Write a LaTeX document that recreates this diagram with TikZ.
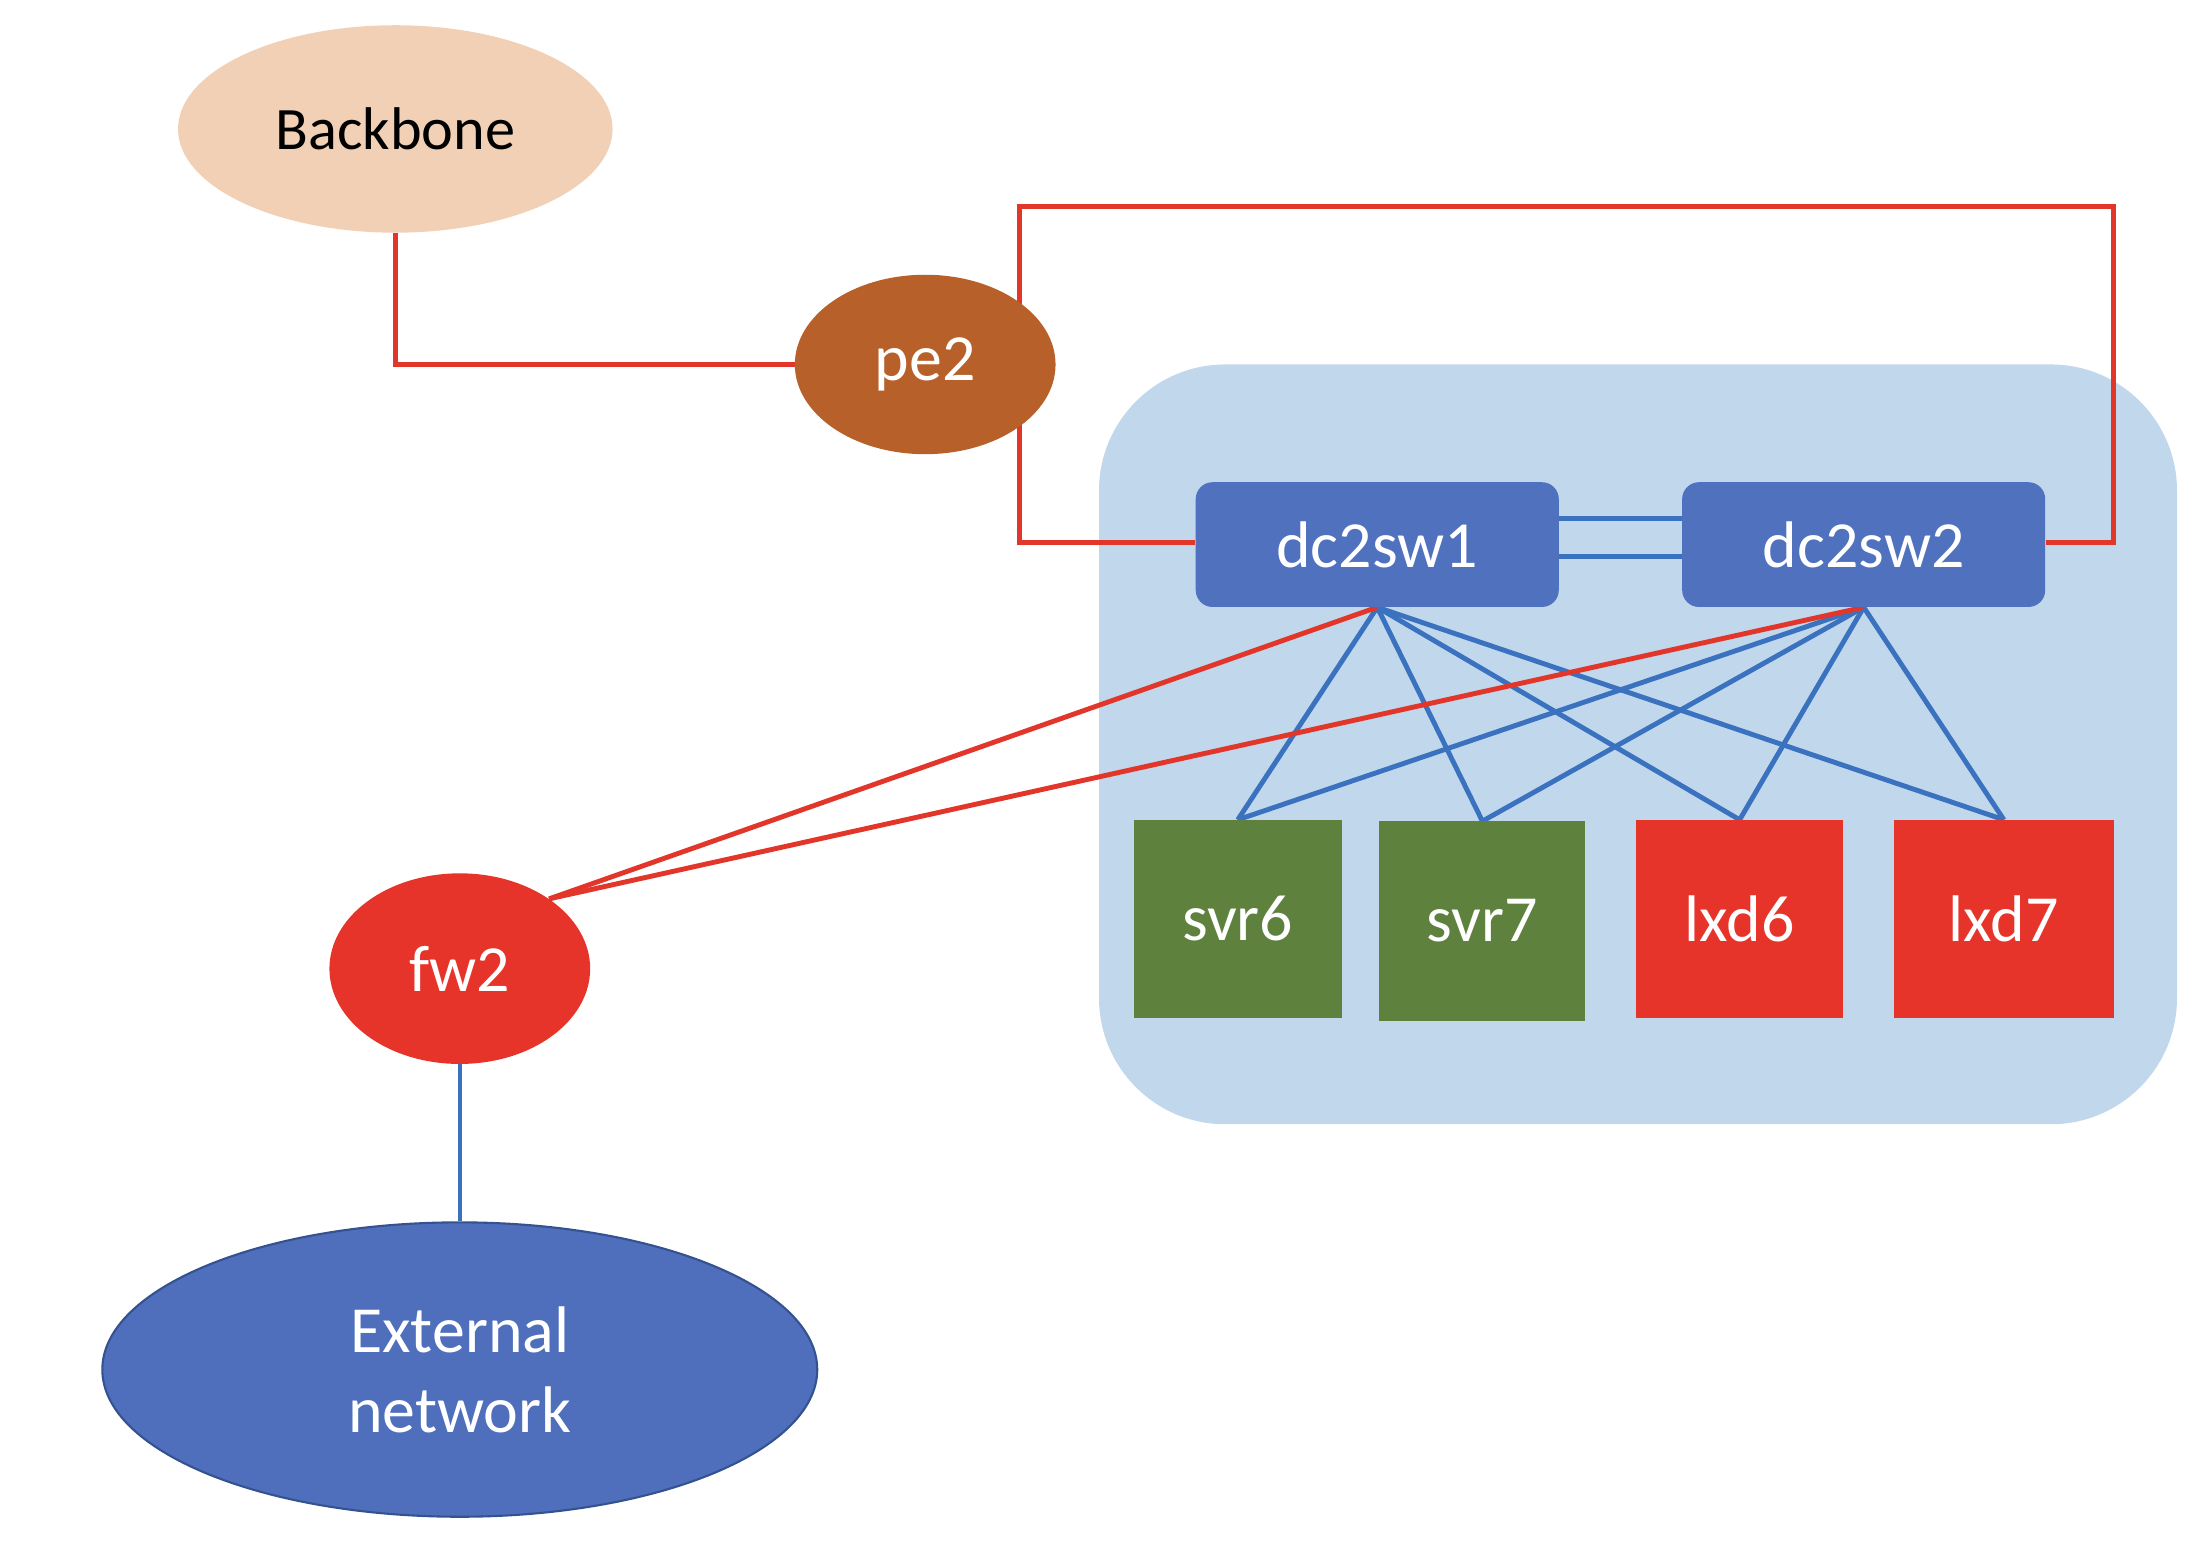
\documentclass[tikz,border=0pt]{standalone}
\usepackage{fontspec}
\setmainfont{Carlito}
\usetikzlibrary{shapes.geometric}
\pgfdeclarelayer{bg}
\pgfdeclarelayer{mid}
\pgfsetlayers{bg,mid,main}
\definecolor{backfill}{HTML}{F1D0B5}
\definecolor{pefill}{HTML}{B8602A}
\definecolor{redfill}{HTML}{E7342A}
\definecolor{greenfill}{HTML}{5E823E}
\definecolor{swfill}{HTML}{4F71BE}
\definecolor{zonefill}{HTML}{C1D7EB}
\definecolor{extfill}{HTML}{4F6FBC}
\definecolor{extborder}{HTML}{34528F}
\definecolor{redline}{HTML}{E2362B}
\definecolor{blueline}{HTML}{3B72C0}
\tikzset{
  lbl/.style={text=white, font=\fontsize{47}{57}\selectfont, inner sep=0pt},
  oval/.style={ellipse, inner sep=0pt},
  swbox/.style={rectangle, rounded corners=12pt, fill=swfill, minimum width=259pt, minimum height=89pt, lbl},
  hostbox/.style={rectangle, minimum height=141pt, lbl},
  redlink/.style={draw=redline, line width=3.5pt},
  bluelink/.style={draw=blueline, line width=3.5pt},
}
\begin{document}
\begin{tikzpicture}[x=1pt, y=-1pt]
\useasboundingbox (0,0) rectangle (1568,1099);
\begin{pgfonlayer}{bg}
\fill[zonefill, rounded corners=90pt] (784,260) rectangle (1553,802);
\end{pgfonlayer}
% nodes
\node[oval, fill=backfill, minimum width=310pt, minimum height=148pt, font=\fontsize{43}{50}\selectfont] (backbone) at (282,92) {Backbone};
\node[oval, fill=pefill, minimum width=186pt, minimum height=128pt, lbl] (pe2) at (660,260) {pe2};
\node[oval, fill=redfill, minimum width=186pt, minimum height=136pt, lbl] (fw2) at (328,691) {fw2};
\node[oval, fill=extfill, draw=extborder, line width=1.5pt, minimum width=510pt, minimum height=210pt, lbl, align=center] (ext) at (328,977) {External\\network};
\node[swbox] (dc2sw1) at (982.5,388.5) {dc2sw1};
\node[swbox] (dc2sw2) at (1329.5,388.5) {dc2sw2};
\node[hostbox, fill=greenfill, minimum width=148pt] (svr6) at (883,655.5) {svr6};
\node[hostbox, fill=greenfill, minimum width=147pt, minimum height=142pt] (svr7) at (1057.5,657) {svr7};
\node[hostbox, fill=redfill, minimum width=148pt] (lxd6) at (1241,655.5) {lxd6};
\node[hostbox, fill=redfill, minimum width=157pt] (lxd7) at (1429.5,655.5) {lxd7};
\coordinate (c0) at (727,387);
\coordinate (c1) at (727,147);
\coordinate (c2) at (1508,147);
\coordinate (c3) at (1508,387);
\begin{pgfonlayer}{mid}
\draw[redlink] (backbone.south) |- (pe2.west);
\draw[redlink] ([yshift=1.5pt]dc2sw1.west) -- (c0) -- (c1) -- (c2) -- (c3) -- ([yshift=1.5pt]dc2sw2.east);
\draw[bluelink] ([yshift=18.5pt]dc2sw1.east) -- ([yshift=18.5pt]dc2sw2.west);
\draw[bluelink] ([yshift=-8.5pt]dc2sw1.east) -- ([yshift=-8.5pt]dc2sw2.west);
\foreach \s in {dc2sw1,dc2sw2}{
  \foreach \t in {svr6,svr7,lxd6,lxd7}{
    \draw[bluelink] (\s.south) -- (\t.north);
  }
}
\draw[redlink] (fw2.38) -- (dc2sw1.south);
\draw[redlink] (fw2.38) -- (dc2sw2.south);
\draw[draw=blueline, line width=3pt] (fw2.south) -- (ext.north);
\end{pgfonlayer}
\end{tikzpicture}
\end{document}
